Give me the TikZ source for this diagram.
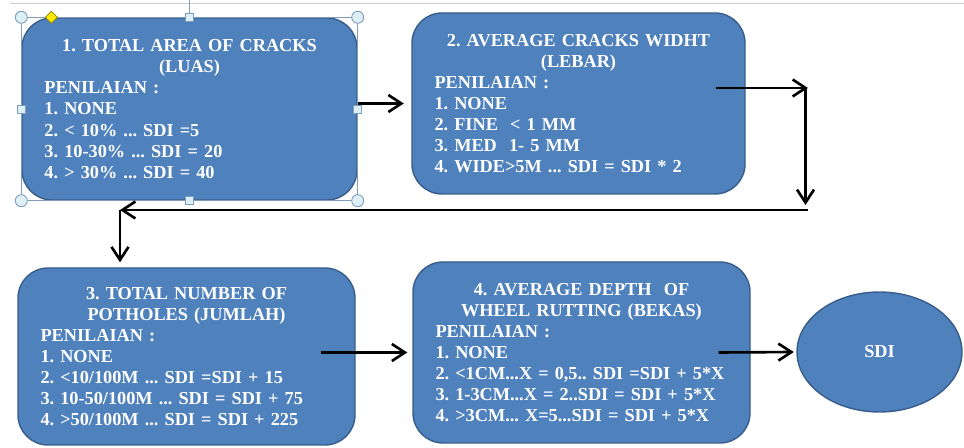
\documentclass[tikz,border=0pt]{standalone}
\usepackage{fontspec}
\setmainfont{Liberation Serif}
\usetikzlibrary{shapes.geometric,arrows.meta,calc}
\definecolor{boxblue}{HTML}{4F81BD}
\definecolor{boxedge}{HTML}{385D8A}
\definecolor{handlefill}{HTML}{DDEFF7}
\definecolor{handleedge}{HTML}{7F9DB9}
\frenchspacing

\begin{document}
\begin{tikzpicture}[
  stepbox/.style={draw=boxedge, line width=0.8pt, fill=boxblue, rounded corners=0.6cm,
    text=white, font=\fontsize{10.4}{12}\selectfont\bfseries,
    inner xsep=0.45cm, inner ysep=0pt, align=left},
  flow/.style={line width=1.5pt, -{Straight Barb[length=2.6mm,width=3.4mm]}},
  handle/.style={draw=handleedge, fill=handlefill, line width=0.5pt}
]
\useasboundingbox (0,0) rectangle (19.28,-8.96);
\draw[gray!40, line width=0.6pt] (0.2,-0.07) -- (19.28,-0.07);

% the four criteria
\node[stepbox, text width=5.8cm, minimum height=3.64cm] (luas) at (3.79,-2.18)
  {{\centering 1. TOTAL AREA OF CRACKS\\(LUAS)\par}PENILAIAN :\\1. NONE\\2. < 10\% ... SDI =5\\3. 10-30\% ... SDI = 20\\4. > 30\% ... SDI = 40};
\node[stepbox, text width=5.76cm, minimum height=3.62cm] (lebar) at (11.57,-2.07)
  {{\centering 2. AVERAGE CRACKS WIDHT\\(LEBAR)\par}PENILAIAN :\\1. NONE\\2. FINE \ < 1 MM\\3. MED \ 1- 5 MM\\4. WIDE>5M ... SDI = SDI * 2};
\node[stepbox, text width=5.84cm, minimum height=3.54cm] (jumlah) at (3.73,-7.13)
  {{\centering 3. TOTAL NUMBER OF\\POTHOLES (JUMLAH)\par}PENILAIAN :\\1. NONE\\2. <10/100M ... SDI =SDI + 15\\3. 10-50/100M ... SDI = SDI + 75\\4. >50/100M ... SDI = SDI + 225};
\node[stepbox, text width=5.84cm, minimum height=3.62cm] (bekas) at (11.63,-7.05)
  {{\centering 4. AVERAGE DEPTH \ OF\\WHEEL RUTTING (BEKAS)\par}PENILAIAN :\\1. NONE\\2. <1CM...X = 0,5.. SDI =SDI + 5*X\\3. 1-3CM...X = 2..SDI = SDI + 5*X\\4. >3CM... X=5...SDI = SDI + 5*X};
\node[ellipse, draw=boxedge, line width=0.8pt, fill=boxblue, text=white,
  font=\fontsize{10.4}{12}\selectfont\bfseries,
  minimum width=3.3cm, minimum height=2.4cm] (sdi) at (17.59,-7.04) {SDI};

% selection handles
\draw[handleedge, line width=0.4pt] (luas.north west) rectangle (luas.south east);
\draw[handleedge, line width=0.4pt] (luas.north) -- (luas.north |- 0,0);
\foreach \a in {north west,north east,south west,south east}
  \draw[handle] (luas.\a) circle (0.12);
\foreach \a in {north,south,east,west}
  \draw[handle] ($(luas.\a)+(-0.08,-0.08)$) rectangle +(0.16,0.16);
\draw[fill=yellow!90!orange, draw=olive, line width=0.4pt]
  ($(luas.north west)+(0.6,0.12)$) -- ++(0.12,-0.12) -- ++(-0.12,-0.12) -- ++(-0.12,0.12) -- cycle;

% connectors
\coordinate (turnA) at (16.16,-1.76);
\coordinate (turnB) at (16.16,-4.2);
\coordinate (turnC) at (2.4,-4.2);
\draw[flow] (luas.east |- lebar.west) -- ([xshift=-1.5mm]lebar.west);
\draw[flow] ([xshift=-0.6cm]lebar.east |- turnA) -- (turnA);
\draw[flow] ([xshift=-0.5mm]turnA) -- ([xshift=-0.5mm,yshift=1mm]turnB);
\draw[flow] (turnB) -- (turnC);
\draw[flow] (turnC) -- ([yshift=1mm]turnC |- jumlah.north);
\draw[flow] ([xshift=-0.7cm]jumlah.east |- bekas.west) -- ([xshift=-1mm]bekas.west);
\draw[flow] ([xshift=-0.64cm]bekas.east) -- ([xshift=-0.5mm]sdi.west);
\end{tikzpicture}
\end{document}
